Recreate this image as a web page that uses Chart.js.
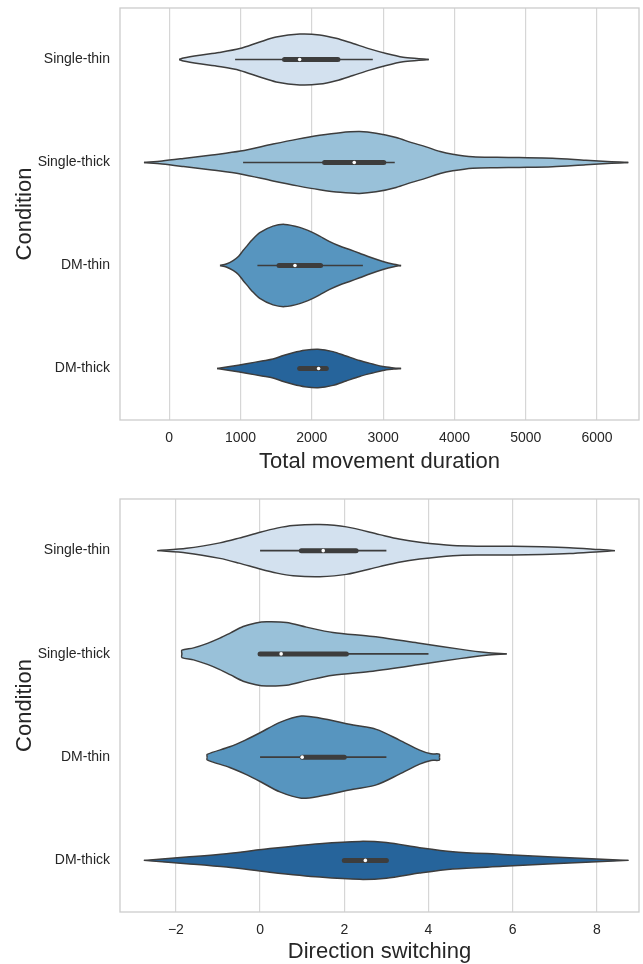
<!DOCTYPE html>
<html>
<head>
<meta charset="utf-8">
<script src="https://cdn.jsdelivr.net/npm/chart.js@4.4.1/dist/chart.umd.min.js"></script>
<style>
  html, body { margin: 0; padding: 0; background: #fff; }
  canvas { display: block; }
</style>
</head>
<body>
<canvas id="duration" width="643" height="482"></canvas>
<canvas id="switching" width="643" height="482"></canvas>
<script>
const conditions = ["Single-thin", "Single-thick", "DM-thin", "DM-thick"];
const fills = ["#d3e1ef", "#99c1d9", "#5795bf", "#26649b"];

// violin outlines: [value, half width in category units]
const durationShapes = [
  [[140, 0], [200, .015], [430, .042], [700, .068], [990, .106], [1270, .170], [1500, .218], [1830, .247],
   [2110, .239], [2340, .206], [2577, .155], [2810, .103], [3043, .058], [3280, .022], [3500, .008], [3640, 0]],
  [[-354, 0], [-100, .015], [200, .039], [600, .073], [1000, .111], [1456, .179], [1800, .227], [2110, .264],
   [2400, .290], [2670, .300], [2900, .285], [3183, .242], [3400, .193], [3603, .152], [3800, .106], [3976, .080],
   [4256, .055], [4600, .050], [4909, .048], [5376, .042], [5843, .022], [6200, .008], [6438, 0]],
  [[712, 0], [800, .015], [896, .048], [970, .087], [1036, .145], [1100, .198], [1153, .242], [1270, .319],
   [1456, .382], [1620, .399], [1830, .370], [2000, .324], [2110, .285], [2250, .232], [2390, .189], [2530, .155],
   [2670, .119], [2830, .077], [2997, .039], [3150, .012], [3252, 0]],
  [[672, 0], [850, .019], [1083, .046], [1300, .073], [1456, .092], [1600, .126], [1736, .153], [1900, .177],
   [2086, .187], [2296, .164], [2480, .121], [2670, .077], [2850, .044], [2997, .019], [3150, .006], [3252, 0]]
];
// [whisker low, q1, median, q3, whisker high]
const durationBoxes = [
  [924, 1617, 1829, 2366, 2855],
  [1036, 2179, 2595, 3009, 3163],
  [1237, 1540, 1764, 2123, 2716],
  [1800, 1830, 2095, 2203, 2203]
];
const durationTicks = [0, 1000, 2000, 3000, 4000, 5000, 6000];

const switchingShapes = [
  [[-2.44, 0], [-1.745, .022], [-0.955, .075], [-0.5, .121], [0, .178], [0.4, .218], [0.785, .243], [1.417, .252],
   [2.05, .230], [2.84, .155], [3.3, .112], [3.79, .081], [4.58, .049], [5.3, .043], [6.0, .042], [6.7, .038],
   [7.35, .029], [8.06, .010], [8.43, 0]],
  [[-1.857, 0], [-1.857, .036], [-1.58, .058], [-1.25, .102], [-0.956, .152], [-0.7, .204], [-0.402, .265],
   [-0.1, .299], [0.151, .311], [0.625, .304], [1.1, .259], [1.73, .207], [2.68, .168], [3.79, .104], [4.74, .046],
   [5.37, .013], [5.86, 0]],
  [[-1.257, 0], [-1.257, .026], [-0.72, .100], [-0.35, .165], [0, .236], [0.47, .337], [0.98, .398], [1.41, .379],
   [2.21, .311], [2.76, .269], [3.31, .165], [3.79, .068], [4.06, .032], [4.26, .029], [4.26, 0]],
  [[-2.76, 0], [-1.745, .032], [-0.797, .065], [0.23, .114], [1.417, .162], [2.37, .184], [3.0, .172], [3.79, .123],
   [4.58, .084], [5.77, .058], [6.95, .032], [8.0, .013], [8.75, 0]]
];
const switchingBoxes = [
  [0, 0.98, 1.5, 2.28, 3.0],
  [0, 0, 0.5, 2.05, 4.0],
  [0, 1.0, 1.0, 2.0, 3.0],
  [2.0, 2.0, 2.5, 3.0, 3.0]
];
const switchingTicks = [-2, 0, 2, 4, 6, 8];

const FONT = "'Liberation Sans', Arial, sans-serif";
const TEXT = "#262626";
const EDGE = "#3d3d3d";

const frame = {
  id: "frame",
  beforeDatasetsDraw(chart) {
    const { ctx, chartArea: a } = chart;
    ctx.save();
    ctx.strokeStyle = "#cccccc";
    ctx.lineWidth = 1.3;
    ctx.strokeRect(a.left, a.top, a.right - a.left, a.bottom - a.top);
    ctx.restore();
  },
};

// chart.js draws higher "order" first, so violins get big numbers and the inner box small ones
const buildDatasets = (shapes, boxes) => {
  const sets = [];
  shapes.forEach((shape, i) => {
    sets.push({
      data: shape.map(([v, w]) => ({ x: v, y: i - w })),
      borderColor: EDGE, borderWidth: 1.5, backgroundColor: fills[i],
      fill: "+1", tension: 0.3, pointRadius: 0, order: 20,
    });
    sets.push({
      data: shape.map(([v, w]) => ({ x: v, y: i + w })),
      borderColor: EDGE, borderWidth: 1.5, fill: false, tension: 0.3, pointRadius: 0, order: 10,
    });
  });
  boxes.forEach(([lo, q1, med, q3, hi], i) => {
    sets.push({
      data: [{ x: lo, y: i }, { x: hi, y: i }],
      borderColor: EDGE, borderWidth: 1.6, fill: false, pointRadius: 0, order: 3,
    });
    sets.push({
      data: [{ x: q1, y: i }, { x: q3, y: i }],
      borderColor: EDGE, borderWidth: 5, borderCapStyle: "round", fill: false, pointRadius: 0, order: 2,
    });
    sets.push({
      data: [{ x: med, y: i }],
      showLine: false, pointRadius: 1.8, pointBorderWidth: 0, pointBackgroundColor: "#ffffff", order: 1,
    });
  });
  return sets;
};

const fmt = (v) => (v < 0 ? "\u2212" + Math.abs(v) : String(v));

const makeChart = (id, { shapes, boxes, ticks, min, max, title, padTop, axisHeight, titlePad }) => {
  new Chart(document.getElementById(id), {
    type: "line",
    data: { datasets: buildDatasets(shapes, boxes) },
    plugins: [frame],
    options: {
      responsive: false,
      animation: false,
      layout: { padding: { top: padTop, right: 3, left: 0, bottom: 0 } },
      plugins: { legend: { display: false }, tooltip: { enabled: false } },
      scales: {
        x: {
          type: "linear", min, max,
          afterBuildTicks: (scale) => { scale.ticks = ticks.map((value) => ({ value })); },
          afterFit: (scale) => {
            scale.height = axisHeight;
            scale.paddingLeft = 0;
            scale.paddingRight = 0;
          },
          grid: { color: "#d6d6d6", lineWidth: 1.2, drawTicks: false },
          border: { display: false },
          ticks: { padding: 10, color: TEXT, font: { family: FONT, size: 14 }, callback: fmt, maxRotation: 0 },
          title: { display: true, text: title, color: TEXT, padding: { top: 0, bottom: titlePad },
                   font: { family: FONT, size: 22, lineHeight: 1 } },
        },
        y: {
          type: "linear", min: -0.5, max: 3.5, reverse: true,
          afterBuildTicks: (scale) => { scale.ticks = conditions.map((_, value) => ({ value })); },
          afterFit: (scale) => {
            scale.width = 120;
            scale.paddingTop = 0;
            scale.paddingBottom = 0;
          },
          grid: { display: false, drawTicks: false, tickLength: 0 },
          border: { display: false },
          ticks: { padding: 10, color: TEXT, font: { family: FONT, size: 14 }, callback: (v) => conditions[v] },
          title: { display: true, text: "Condition", color: TEXT, padding: { top: 14, bottom: 0 },
                   font: { family: FONT, size: 22, lineHeight: 1 } },
        },
      },
    },
  });
};

makeChart("duration", {
  shapes: durationShapes, boxes: durationBoxes, ticks: durationTicks,
  min: -690, max: 6588, title: "Total movement duration",
  padTop: 8, axisHeight: 62, titlePad: 9,
});

makeChart("switching", {
  shapes: switchingShapes, boxes: switchingBoxes, ticks: switchingTicks,
  min: -3.327, max: 9.0, title: "Direction switching",
  padTop: 17, axisHeight: 52, titlePad: 1,
});
</script>
</body>
</html>
